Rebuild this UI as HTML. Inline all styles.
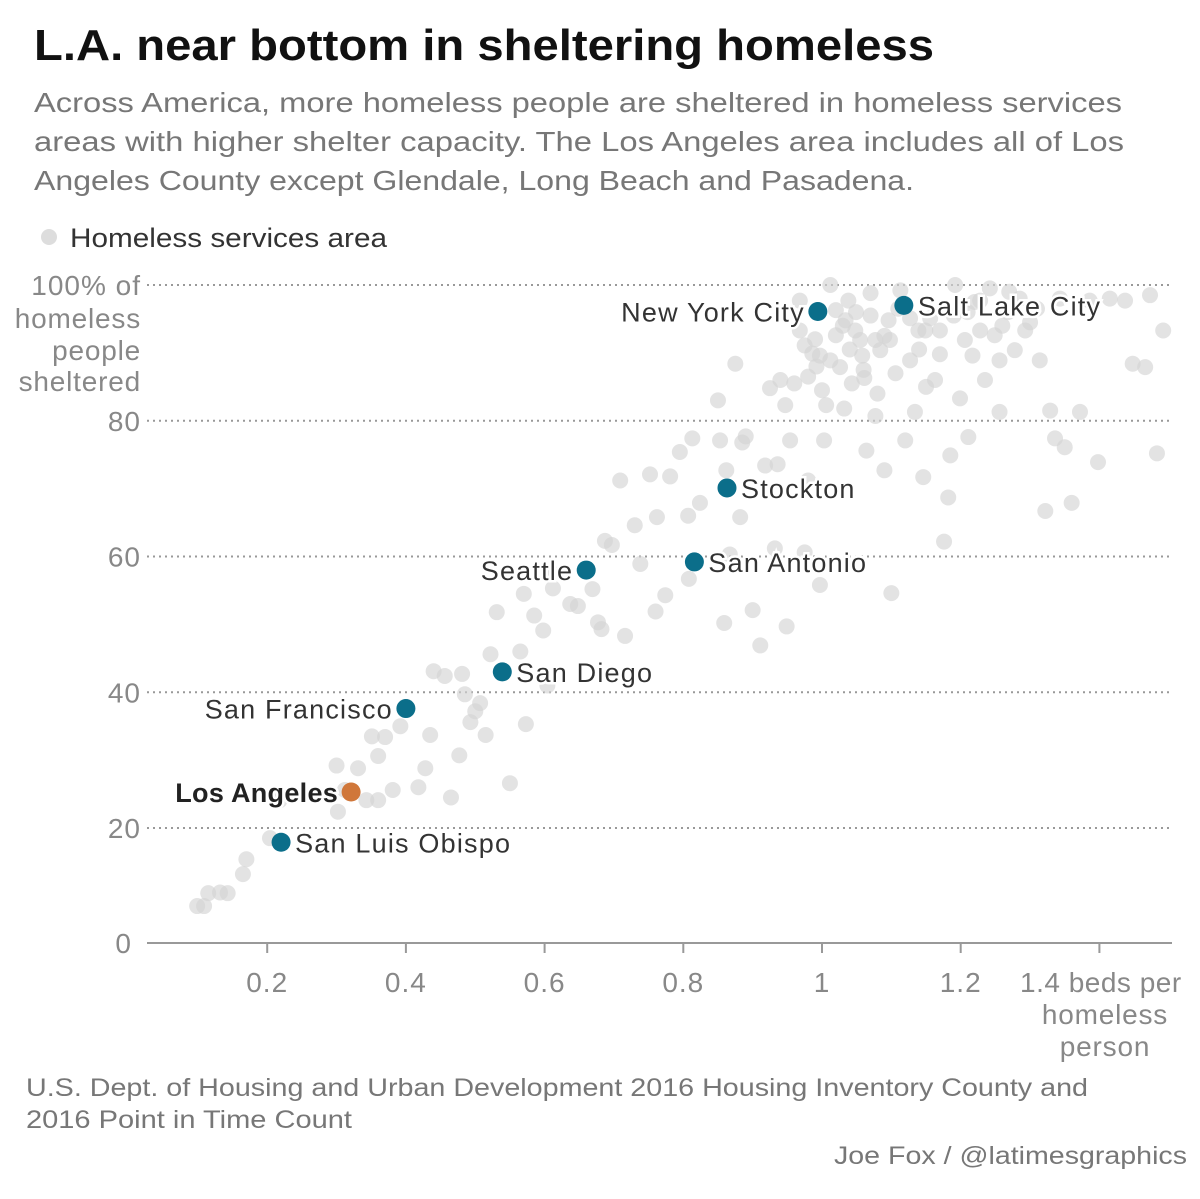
<!DOCTYPE html>
<html><head><meta charset="utf-8"><style>
body{margin:0;background:#fff}
svg{display:block;font-family:"Liberation Sans",sans-serif}
</style></head><body>
<svg id="chart" width="1200" height="1199" viewBox="0 0 1200 1199">
<text x="34" y="60" font-size="44" font-weight="bold" fill="#111" textLength="900" lengthAdjust="spacingAndGlyphs">L.A. near bottom in sheltering homeless</text>
<g font-size="28" fill="#777">
<text x="34" y="112" textLength="1088" lengthAdjust="spacingAndGlyphs">Across America, more homeless people are sheltered in homeless services</text>
<text x="34" y="151" textLength="1090" lengthAdjust="spacingAndGlyphs">areas with higher shelter capacity. The Los Angeles area includes all of Los</text>
<text x="34" y="190" textLength="880" lengthAdjust="spacingAndGlyphs">Angeles County except Glendale, Long Beach and Pasadena.</text>
</g>
<g>
<circle cx="49" cy="237" r="8" fill="#ddd"/>
<text x="70" y="247" font-size="27" fill="#333" textLength="317" lengthAdjust="spacingAndGlyphs">Homeless services area</text>
</g>
<g id="grid"></g>
<g id="dots"></g>
<g id="hl"></g>
<g id="axes"></g>
<g font-size="25" fill="#777">
<text x="26" y="1096" textLength="1062" lengthAdjust="spacingAndGlyphs">U.S. Dept. of Housing and Urban Development 2016 Housing Inventory County and</text>
<text x="26" y="1128" textLength="326" lengthAdjust="spacingAndGlyphs">2016 Point in Time Count</text>
<text x="1187" y="1164" text-anchor="end" textLength="353" lengthAdjust="spacingAndGlyphs">Joe Fox / @latimesgraphics</text>
</g>
</svg>
<script>
const xTicks=[0.2,0.4,0.6,0.8,1,1.2,1.4];
const xTickLabels=["0.2","0.4","0.6","0.8","1","1.2","1.4 beds per"];
const yTicks=[20,40,60,80,100];
const yTickLabels=["20","40","60","80","100% of"];
const grayX=[0.099,0.109,0.115,0.132,0.143,0.165,0.17,0.204,0.218,0.3,0.302,0.312,0.331,0.343,0.36,0.36,0.351,0.37,0.381,0.392,0.418,0.428,0.435,0.44,0.456,0.465,0.477,0.481,0.485,0.493,0.5,0.507,0.515,0.522,0.531,0.55,0.565,0.57,0.573,0.585,0.598,0.604,0.608,0.612,0.637,0.648,0.669,0.677,0.682,0.687,0.697,0.709,0.716,0.73,0.738,0.752,0.76,0.762,0.774,0.781,0.795,0.807,0.808,0.813,0.824,0.85,0.853,0.859,0.862,0.867,0.875,0.882,0.885,0.89,0.9,0.911,0.918,0.925,0.932,0.936,0.947,0.949,0.954,0.968,0.975,0.98,0.986,0.992,0.997,1.003,1.006,1.012,1.02,1.026,1.032,1.038,1.043,1.049,1.055,1.061,1.064,1.07,1.077,1.084,1.09,1.096,1.1,1.106,1.113,1.12,1.127,1.134,1.139,1.146,1.156,1.163,1.17,1.176,1.182,1.185,1.192,1.199,1.206,1.211,1.217,1.228,1.235,1.242,1.249,1.256,1.268,1.278,1.285,1.3,1.314,1.322,1.329,1.336,1.343,1.35,1.36,1.372,1.386,1.398,1.415,1.437,1.448,1.466,1.473,1.483,1.492,0.968,0.975,0.997,1.012,1.02,1.034,1.048,1.058,1.077,1.098,1.127,1.149,1.17,1.228,1.256,1.293,0.98,1.0,1.04,1.06,1.09,1.11,1.14,1.19,1.22,1.27,1.31,0.96,0.99,1.03,1.07,1.15,1.21,1.26,0.94,1.08];
const grayY=[8.5,8.5,10.4,10.5,10.4,13.2,15.4,18.5,24.1,29.2,22.4,25.6,28.8,24.1,24.1,30.6,33.5,33.4,25.6,35,26,28.8,33.7,43.1,42.4,24.5,30.7,42.7,39.7,35.6,37.2,38.4,33.7,45.6,51.8,26.6,46,54.5,35.3,51.3,49.1,41,57.8,55.3,53,52.7,55.2,50.3,49.3,62.3,61.7,71.2,48.3,64.6,58.9,72.1,51.9,65.8,54.3,71.8,75.4,66,56.7,77.4,67.9,83,77.1,50.2,72.7,60.3,88.4,65.8,76.8,77.7,52.1,46.9,73.4,84.8,61.2,73.6,82.3,49.7,77.1,97.7,60.6,71.2,89.9,88,55.8,77.1,82.3,100,92.6,87.9,81.8,97.7,85.5,96,91.9,86.3,75.6,98.8,80.7,90.4,72.7,94.8,54.6,87,99.2,77.1,88.9,81.3,93.3,71.7,95.1,86,89.8,62.2,68.7,74.9,100,83.3,91.9,77.6,89.6,97.7,86,99.5,92.6,81.3,96,90.4,98,94.5,88.9,66.7,81.5,77.4,98,76.1,67.9,81.3,97.7,73.9,98,97.7,88.4,87.9,98.5,75.2,93.3,93.3,91.1,89.6,88.9,96.3,94.8,93.3,89.6,91.9,91.9,95.1,93.3,93.3,93.3,88.9,93.3,86.5,84.5,90.5,87.5,92.5,96.5,90.5,95.5,97.5,99,96.5,85.5,92,94,95.5,85,96,94,86,84];
const cityNames=["New York City","Salt Lake City","Stockton","Seattle","San Antonio","San Diego","San Francisco","Los Angeles","San Luis Obispo"];
const cityX=[0.994,1.118,0.863,0.66,0.816,0.539,0.4,0.321,0.22];
const cityY=[96.1,97,70.1,58,59.2,43,37.6,25.3,17.9];
const citySide=["left","right","right","left","right","right","left","left","right"];

const NS="http://www.w3.org/2000/svg";
const xS=v=>128.5+v*693.5;
const yS=v=>963.75-v*6.7875;
function mk(tag,attrs,parent,txt){const e=document.createElementNS(NS,tag);for(const k in attrs)e.setAttribute(k,attrs[k]);if(txt!==undefined)e.textContent=txt;parent.appendChild(e);return e;}
const grid=document.getElementById('grid'),dots=document.getElementById('dots'),hl=document.getElementById('hl'),axes=document.getElementById('axes');
yTicks.forEach((t,i)=>{
  const l=mk('line',{x1:147,x2:1172,y1:yS(t),y2:yS(t),stroke:'#999','stroke-width':2,'stroke-dasharray':'2,4'},grid);
  
  
  const tx=mk('text',{x:141,y:yS(t)+10,'text-anchor':'end','font-size':28,fill:'#888','letter-spacing':1},axes,yTickLabels[i]);
  
  
});
[["homeless",328],["people",360],["sheltered",391]].forEach(a=>{
  const tx=mk('text',{x:141,y:a[1],'text-anchor':'end','font-size':28,fill:'#888','letter-spacing':0.8},axes,a[0]);
  
  
});
const z=mk('text',{x:131,y:953,'text-anchor':'end','font-size':28,fill:'#888'},axes,"0");


const base=mk('line',{x1:147,x2:1172,y1:943,y2:943,stroke:'#999','stroke-width':2},axes);


xTicks.forEach((t,i)=>{
  const tk=mk('line',{x1:xS(t),x2:xS(t),y1:943,y2:953,stroke:'#999','stroke-width':2},axes);
  
  
  const last=i===xTicks.length-1;
  const tx=mk('text',{x:last?1020:xS(t),y:992,'text-anchor':last?'start':'middle','font-size':28,fill:'#888','letter-spacing':last?0.5:1},axes,xTickLabels[i]);
  
  
});
[["homeless",1024],["person",1056]].forEach(a=>{
  const tx=mk('text',{x:1105,y:a[1],'text-anchor':'middle','font-size':28,fill:'#888','letter-spacing':0.8},axes,a[0]);
  
  
});
grayX.forEach((v,i)=>{
  const c=mk('circle',{cx:xS(v),cy:yS(grayY[i]),r:8,fill:'#d4d4d4','fill-opacity':0.65},dots);
  
  
});
cityNames.forEach((n,i)=>{
  const la=n==="Los Angeles";
  const cx=xS(cityX[i]),cy=yS(cityY[i]);
  const c=mk('circle',{cx:cx,cy:cy,r:9.5,fill:la?'#d0773a':'#0b6e8a'},hl);
  
  
  const left=citySide[i]==="left";
  const t=mk('text',{x:left?cx-13:cx+14,y:cy+10,'text-anchor':left?'end':'start','font-size':27,'letter-spacing':la?0.3:1.2,fill:la?'#222':'#333','font-weight':la?'bold':'normal',stroke:'#fff','stroke-width':5,'paint-order':'stroke'},hl,n);
  
  
});
</script>
</body></html>
